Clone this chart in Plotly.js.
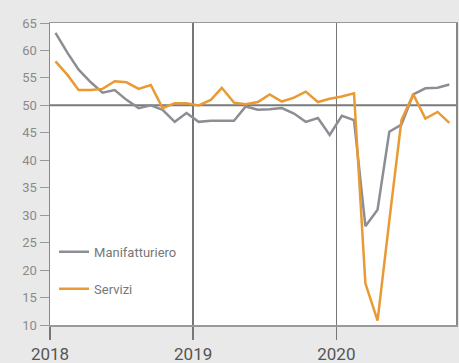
<!DOCTYPE html>
<html>
<head>
<meta charset="utf-8">
<script src="https://cdn.plot.ly/plotly-3.0.1.min.js"></script>
<style>html,body{margin:0;padding:0;background:#e9e9e9;}#chart{width:459px;height:363px;}</style>
</head>
<body>
<div id="chart"></div>
<script>
const months = [
  '2018-01-15','2018-02-15','2018-03-15','2018-04-15','2018-05-15','2018-06-15',
  '2018-07-15','2018-08-15','2018-09-15','2018-10-15','2018-11-15','2018-12-15',
  '2019-01-15','2019-02-15','2019-03-15','2019-04-15','2019-05-15','2019-06-15',
  '2019-07-15','2019-08-15','2019-09-15','2019-10-15','2019-11-15','2019-12-15',
  '2020-01-15','2020-02-15','2020-03-15','2020-04-15','2020-05-15','2020-06-15',
  '2020-07-15','2020-08-15','2020-09-15','2020-10-15'
];
const manifatturiero = [
  63.2, 59.5, 56.5, 54.2, 52.3, 52.8, 51.0, 49.5, 50.0, 49.2, 47.0, 48.6,
  47.0, 47.2, 47.2, 47.2, 49.8, 49.2, 49.3, 49.5, 48.5, 47.0, 47.7, 44.6,
  48.1, 47.3, 28.0, 31.0, 45.2, 46.5, 52.0, 53.1, 53.2, 53.8
];
const servizi = [
  58.0, 55.5, 52.8, 52.8, 53.0, 54.4, 54.2, 53.0, 53.7, 49.5, 50.4, 50.4,
  50.0, 51.0, 53.2, 50.5, 50.2, 50.6, 52.0, 50.7, 51.4, 52.5, 50.6, 51.2,
  51.6, 52.2, 17.6, 10.8, 29.0, 47.3, 52.0, 47.6, 48.8, 46.8
];
const seriesNames = ['Manifatturiero', 'Servizi'];
const yTicks = [10, 15, 20, 25, 30, 35, 40, 45, 50, 55, 60, 65];
const yearTicks = ['2018-01-01', '2019-01-01', '2020-01-01'];
const yearLabels = ['2018', '2019', '2020'];

const traces = [
  {x: months, y: manifatturiero, name: seriesNames[0], type: 'scatter', mode: 'lines',
   line: {color: '#8b8f94', width: 2.5}, legendgroup: 'a'},
  {x: months, y: servizi, name: seriesNames[1], type: 'scatter', mode: 'lines',
   line: {color: '#e99a34', width: 2.5}, legendgroup: 'b'}
];

const layout = {
  width: 459, height: 363,
  margin: {l: 50, r: 3, t: 23, b: 38},
  paper_bgcolor: '#e9e9e9',
  plot_bgcolor: '#ffffff',
  font: {family: 'Roboto, sans-serif', color: '#8a8a8a'},
  showlegend: true,
  legend: {x: 0.01, y: 0.292, xanchor: 'left', yanchor: 'top', bgcolor: 'rgba(0,0,0,0)',
           traceorder: 'grouped', tracegroupgap: 17,
           font: {size: 13, color: '#777777', family: 'Roboto, sans-serif'}},
  xaxis: {
    type: 'date', range: ['2018-01-01', '2020-11-01'],
    tickmode: 'array', tickvals: yearTicks, ticktext: yearLabels,
    ticks: 'outside', ticklen: 13, tickwidth: 1.5, tickcolor: '#777777',
    showgrid: true, gridcolor: '#777777', gridwidth: 1.5,
    showline: true, linecolor: '#999999', linewidth: 1.5, mirror: true,
    tickfont: {size: 17, color: '#555555', family: 'Roboto, sans-serif'},
    zeroline: false, fixedrange: true
  },
  yaxis: {
    range: [10, 65], tickmode: 'array', tickvals: yTicks,
    ticks: 'outside', ticklen: 9, tickwidth: 1, tickcolor: '#999999',
    showgrid: false, zeroline: false,
    showline: true, linecolor: '#888888', linewidth: 1.5, mirror: true,
    tickfont: {size: 13, color: '#8a8a8a', family: 'Roboto, sans-serif'},
    fixedrange: true
  },
  shapes: [
    {type: 'line', xref: 'paper', x0: 0, x1: 1, yref: 'y', y0: 50, y1: 50,
     line: {color: '#7a7a7a', width: 2}, layer: 'below'}
  ]
};

Plotly.newPlot('chart', traces, layout, {displayModeBar: false, staticPlot: true});
</script>
</body>
</html>
